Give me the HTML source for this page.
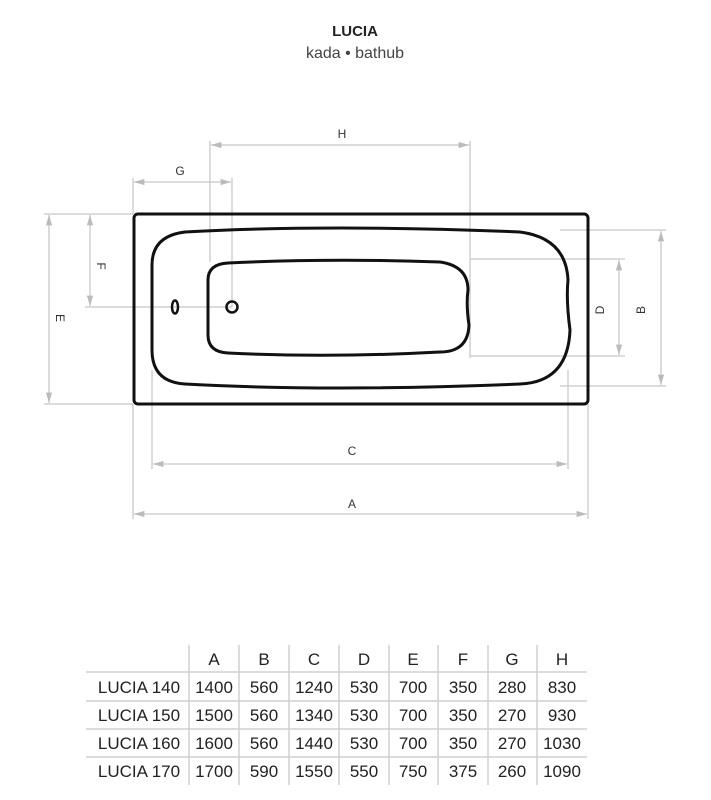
<!DOCTYPE html>
<html><head><style>
body{margin:0;background:#fff;width:711px;height:800px;overflow:hidden;font-family:"Liberation Sans",sans-serif}
</style></head><body>
<svg width="711" height="800" xmlns="http://www.w3.org/2000/svg" style="position:absolute;left:0;top:0">
<defs>
<marker id="a" viewBox="0 0 10 10" refX="10" refY="5" markerWidth="8" markerHeight="8" orient="auto-start-reverse"><path d="M0,2 L10,5 L0,8z" fill="#bbb"/></marker>
</defs>
<text x="355" y="36" text-anchor="middle" font-size="15" font-weight="bold" fill="#222">LUCIA</text>
<text x="355" y="58" text-anchor="middle" font-size="16" fill="#444">kada • bathub</text>
<g stroke="#c8c8c8" stroke-width="1.3" fill="none">
<line x1="133" y1="178" x2="133" y2="214"/><line x1="232" y1="178" x2="232" y2="307"/>
<line x1="210" y1="141" x2="210" y2="262"/><line x1="470" y1="141" x2="470" y2="358"/>
<line x1="44" y1="214" x2="133" y2="214"/><line x1="44" y1="404" x2="133" y2="404"/>
<line x1="85" y1="307" x2="232" y2="307"/>
<line x1="470" y1="259" x2="625" y2="259"/><line x1="470" y1="356" x2="625" y2="356"/>
<line x1="560" y1="230" x2="666" y2="230"/><line x1="560" y1="386" x2="666" y2="386"/>
<line x1="152" y1="370" x2="152" y2="469"/><line x1="568" y1="370" x2="568" y2="469"/>
<line x1="133" y1="404" x2="133" y2="519"/><line x1="588" y1="404" x2="588" y2="519"/>
<line x1="134" y1="182" x2="231" y2="182" marker-start="url(#a)" marker-end="url(#a)"/>
<line x1="211" y1="145" x2="469" y2="145" marker-start="url(#a)" marker-end="url(#a)"/>
<line x1="49" y1="215" x2="49" y2="403" marker-start="url(#a)" marker-end="url(#a)"/>
<line x1="90" y1="215" x2="90" y2="306" marker-start="url(#a)" marker-end="url(#a)"/>
<line x1="619" y1="260" x2="619" y2="355" marker-start="url(#a)" marker-end="url(#a)"/>
<line x1="661" y1="231" x2="661" y2="385" marker-start="url(#a)" marker-end="url(#a)"/>
<line x1="153" y1="464" x2="567" y2="464" marker-start="url(#a)" marker-end="url(#a)"/>
<line x1="134" y1="514" x2="587" y2="514" marker-start="url(#a)" marker-end="url(#a)"/>
</g>
<g stroke="#111" stroke-width="3" fill="none">
<rect x="134" y="214" width="454" height="190" rx="4"/>
<path d="M185,232 Q330,224 520,232 Q566,238 568,280 Q566,300 570,330 Q568,382 520,384 Q330,392 185,384 Q152,382 152,350 L152,265 Q152,236 185,232Z"/>
<path d="M228,263 Q330,258 440,262 Q468,266 468,290 Q466,305 469,325 Q468,352 440,352 Q330,358 228,353 Q208,352 208,335 L208,280 Q208,264 228,263Z"/>
<circle cx="232" cy="307" r="5.5" stroke-width="2.5"/>
<ellipse cx="175" cy="307" rx="3" ry="6.5" stroke-width="2.5"/>
</g>
<g font-size="12" fill="#333" text-anchor="middle">
<text x="342" y="138">H</text><text x="180" y="175">G</text>
<text x="352" y="455">C</text><text x="352" y="508">A</text>
<text transform="translate(97,266) rotate(90)">F</text>
<text transform="translate(56,318) rotate(90)">E</text>
<text transform="translate(604,310) rotate(-90)">D</text>
<text transform="translate(645,310) rotate(-90)">B</text>
</g>
<g stroke="#d0d0d0" stroke-width="1.5">
<line x1="86" y1="672" x2="587" y2="672"/><line x1="86" y1="701" x2="587" y2="701"/>
<line x1="86" y1="729" x2="587" y2="729"/><line x1="86" y1="757" x2="587" y2="757"/>
<line x1="189" y1="645" x2="189" y2="785"/><line x1="239" y1="645" x2="239" y2="785"/>
<line x1="289" y1="645" x2="289" y2="785"/><line x1="339" y1="645" x2="339" y2="785"/>
<line x1="389" y1="645" x2="389" y2="785"/><line x1="438" y1="645" x2="438" y2="785"/>
<line x1="488" y1="645" x2="488" y2="785"/><line x1="537" y1="645" x2="537" y2="785"/>
</g>
<g font-size="17" fill="#222" text-anchor="middle">
<text x="214" y="665">A</text><text x="264" y="665">B</text><text x="314" y="665">C</text><text x="364" y="665">D</text><text x="413" y="665">E</text><text x="463" y="665">F</text><text x="512" y="665">G</text><text x="562" y="665">H</text>
<text x="139" y="693">LUCIA 140</text><text x="214" y="693">1400</text><text x="264" y="693">560</text><text x="314" y="693">1240</text><text x="364" y="693">530</text><text x="413" y="693">700</text><text x="463" y="693">350</text><text x="512" y="693">280</text><text x="562" y="693">830</text>
<text x="139" y="721">LUCIA 150</text><text x="214" y="721">1500</text><text x="264" y="721">560</text><text x="314" y="721">1340</text><text x="364" y="721">530</text><text x="413" y="721">700</text><text x="463" y="721">350</text><text x="512" y="721">270</text><text x="562" y="721">930</text>
<text x="139" y="749">LUCIA 160</text><text x="214" y="749">1600</text><text x="264" y="749">560</text><text x="314" y="749">1440</text><text x="364" y="749">530</text><text x="413" y="749">700</text><text x="463" y="749">350</text><text x="512" y="749">270</text><text x="562" y="749">1030</text>
<text x="139" y="777">LUCIA 170</text><text x="214" y="777">1700</text><text x="264" y="777">590</text><text x="314" y="777">1550</text><text x="364" y="777">550</text><text x="413" y="777">750</text><text x="463" y="777">375</text><text x="512" y="777">260</text><text x="562" y="777">1090</text>
</g>
</svg>
</body></html>
